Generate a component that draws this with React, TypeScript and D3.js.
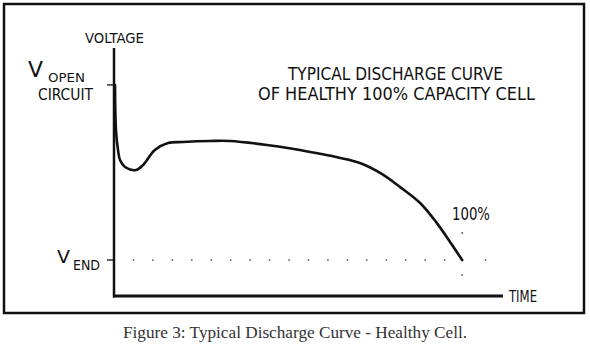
import React from "react";
import * as d3 from "d3";

// Discharge curve (time %, voltage % of axis)
const curveTime = [0.26, 0.51, 1.03, 1.54, 2.83, 5.66, 7.46, 10.5, 13.9, 17.7, 24.7, 29.8, 39.3, 50.4, 63.2, 68.4, 73.5, 78.7, 83.0, 86.4, 89.5];
const curveVolt = [85.1, 66.9, 58.9, 54.8, 52.0, 50.8, 52.8, 58.9, 61.7, 62.1, 62.5, 62.5, 60.9, 58.1, 53.6, 49.6, 44.0, 37.5, 29.4, 21.8, 14.5];

const vOpen = 85.1;
const vEnd = 14.5;
const endDotTimes = [5, 10, 15, 20, 25, 30, 35, 40, 45, 50, 55, 60, 65, 70, 75, 80, 85, 89.5, 95.5];
const markerDotTime = 89.5;
const markerDotVolts = [25.4, 8.5];

const titleLines = ["TYPICAL DISCHARGE CURVE", "OF HEALTHY 100% CAPACITY CELL"];
const caption = "Figure 3: Typical Discharge Curve - Healthy Cell.";

const W = 590, H = 351;
const ink = "#111";
const cad = "'Liberation Sans Narrow', 'DejaVu Sans Condensed', 'Liberation Sans', sans-serif";

export default function App() {
  const x = d3.scaleLinear().domain([0, 100]).range([114, 503]);
  const y = d3.scaleLinear().domain([0, 100]).range([296, 48]);
  const pts: [number, number][] = curveTime.map((t, i) => [t, curveVolt[i]]);
  const line = d3.line<[number, number]>().x(d => x(d[0])).y(d => y(d[1])).curve(d3.curveCatmullRom.alpha(0.5));

  const T = (props: any) => <text fill={ink} fontFamily={cad} lengthAdjust="spacingAndGlyphs" {...props} />;

  return (
    <svg width={W} height={H} style={{ position: "absolute", left: 0, top: 0, background: "#fff" }}>
      <rect x={0} y={0} width={W} height={H} fill="#fff" />
      <rect x={4} y={4} width={580} height={309} fill="none" stroke={ink} strokeWidth={2.5} />
      {/* axes */}
      <line x1={x(0)} y1={y(100)} x2={x(0)} y2={y(0) + 1.5} stroke={ink} strokeWidth={2.5} />
      <line x1={x(0) - 1} y1={y(0)} x2={x(100)} y2={y(0)} stroke={ink} strokeWidth={3} />
      <line x1={x(0) - 7} y1={y(vOpen)} x2={x(0)} y2={y(vOpen)} stroke={ink} strokeWidth={1.3} />
      <line x1={x(0) - 7} y1={y(vEnd)} x2={x(0)} y2={y(vEnd)} stroke={ink} strokeWidth={1.3} />
      {/* dotted end line */}
      {endDotTimes.map((t, i) => (
        <circle key={i} cx={x(t)} cy={y(vEnd)} r={0.9} fill="#555" />
      ))}
      {markerDotVolts.map((v, i) => (
        <circle key={"m" + i} cx={x(markerDotTime)} cy={y(v)} r={0.9} fill="#555" />
      ))}
      {/* curve */}
      <path d={line(pts) || ""} fill="none" stroke={ink} strokeWidth={2.6} strokeLinejoin="round" strokeLinecap="round" />
      {/* labels */}
      <T x={85} y={43} fontSize={14} textLength={59}>VOLTAGE</T>
      <T x={28} y={77} fontSize={21} textLength={15}>V</T>
      <T x={48} y={82} fontSize={13} textLength={37}>OPEN</T>
      <T x={38} y={100} fontSize={15.5} textLength={55}>CIRCUIT</T>
      <T x={57} y={263} fontSize={18} textLength={13}>V</T>
      <T x={73} y={270} fontSize={14} textLength={27}>END</T>
      <T x={288} y={80} fontSize={17} textLength={215}>{titleLines[0]}</T>
      <T x={258} y={100} fontSize={17} textLength={277}>{titleLines[1]}</T>
      <T x={452} y={220} fontSize={17} textLength={38}>100%</T>
      <T x={509} y={302} fontSize={16} textLength={28}>TIME</T>
      <text x={123} y={338} fontSize={16} fill="#333" fontFamily="'Liberation Serif', 'Times New Roman', serif" textLength={344} lengthAdjust="spacingAndGlyphs">{caption}</text>
    </svg>
  );
}
